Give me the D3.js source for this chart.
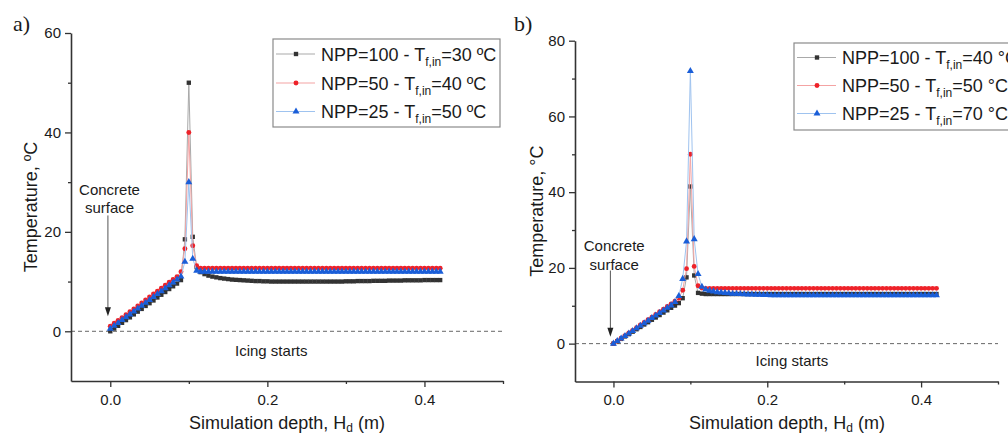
<!DOCTYPE html>
<html>
<head>
<meta charset="utf-8">
<script src="https://cdn.jsdelivr.net/npm/d3@7"></script>
<style>
	body { margin: 0; background: #fff; }
	text { font-family: "Liberation Sans", Arial, sans-serif; fill: #1a1a1a; }
</style>
</head>
<body>
<svg id="chart" width="1008" height="437"></svg>
<script>
// simulation depth nodes (m)
const depth = [
	0, 0.005, 0.01, 0.015, 0.02, 0.025, 0.03, 0.035, 0.04, 0.045,
	0.05, 0.055, 0.06, 0.065, 0.07, 0.075, 0.08, 0.085, 0.09, 0.095,
	0.1, 0.105, 0.11, 0.115, 0.12, 0.125, 0.13, 0.135, 0.14, 0.145,
	0.15, 0.155, 0.16, 0.165, 0.17, 0.175, 0.18, 0.185, 0.19, 0.195,
	0.2, 0.205, 0.21, 0.215, 0.22, 0.225, 0.23, 0.235, 0.24, 0.245,
	0.25, 0.255, 0.26, 0.265, 0.27, 0.275, 0.28, 0.285, 0.29, 0.295,
	0.3, 0.305, 0.31, 0.315, 0.32, 0.325, 0.33, 0.335, 0.34, 0.345,
	0.35, 0.355, 0.36, 0.365, 0.37, 0.375, 0.38, 0.385, 0.39, 0.395,
	0.4, 0.405, 0.41, 0.415, 0.42
];

// panel a) temperatures
const aBlack = [
	0, 0.55, 1.1, 1.7, 2.25, 2.8, 3.4, 3.95, 4.5, 5.1,
	5.65, 6.2, 6.8, 7.35, 7.9, 8.5, 9.05, 9.6, 10.3, 18.5,
	50, 19, 12.9, 11.9, 11.5, 11.2, 11.0, 10.85, 10.7, 10.6,
	10.5, 10.4, 10.35, 10.3, 10.25, 10.2, 10.15, 10.1, 10.1, 10.05,
	10.05, 10.0, 10.0, 10.0, 10.0, 10.0, 10.0, 10.0, 10.0, 10.0,
	10.0, 10.0, 10.0, 10.0, 10.0, 10.0, 10.0, 10.0, 10.0, 10.0,
	10.05, 10.05, 10.05, 10.1, 10.1, 10.1, 10.1, 10.15, 10.15, 10.15,
	10.15, 10.2, 10.2, 10.2, 10.2, 10.25, 10.25, 10.25, 10.25, 10.25,
	10.3, 10.3, 10.3, 10.3, 10.3
];
const aRed = [
	1.0, 1.6, 2.2, 2.75, 3.35, 3.95, 4.5, 5.1, 5.7, 6.3,
	6.9, 7.5, 8.05, 8.65, 9.25, 9.85, 10.4, 11.0, 12.0, 16.6,
	40, 17.2, 13.2, 12.7, 12.7, 12.7, 12.7, 12.7, 12.7, 12.7,
	12.7, 12.7, 12.7, 12.7, 12.7, 12.7, 12.7, 12.7, 12.7, 12.7,
	12.7, 12.7, 12.7, 12.7, 12.7, 12.7, 12.7, 12.7, 12.7, 12.7,
	12.7, 12.7, 12.7, 12.7, 12.7, 12.7, 12.7, 12.7, 12.7, 12.7,
	12.7, 12.7, 12.7, 12.7, 12.7, 12.7, 12.7, 12.7, 12.7, 12.7,
	12.7, 12.7, 12.7, 12.7, 12.7, 12.7, 12.7, 12.7, 12.7, 12.7,
	12.7, 12.7, 12.7, 12.7, 12.7
];
const aBlue = [
	0.5, 1.1, 1.65, 2.25, 2.85, 3.4, 4.0, 4.6, 5.15, 5.75,
	6.3, 6.9, 7.5, 8.05, 8.65, 9.25, 9.8, 10.4, 11.0, 14.0,
	30, 14.6, 12.2, 12.0, 12.0, 12.0, 12.0, 12.0, 12.0, 12.0,
	12.0, 12.0, 12.0, 12.0, 12.0, 12.0, 12.0, 12.0, 12.0, 12.0,
	12.0, 12.0, 12.0, 12.0, 12.0, 12.0, 12.0, 12.0, 12.0, 12.0,
	12.0, 12.0, 12.0, 12.0, 12.0, 12.0, 12.0, 12.0, 12.0, 12.0,
	12.0, 12.0, 12.0, 12.0, 12.0, 12.0, 12.0, 12.0, 12.0, 12.0,
	12.0, 12.0, 12.0, 12.0, 12.0, 12.0, 12.0, 12.0, 12.0, 12.0,
	12.0, 12.0, 12.0, 12.0, 12.0
];

// panel b) temperatures
const bBlack = [
	0, 0.63, 1.25, 1.9, 2.5, 3.15, 3.8, 4.4, 5.05, 5.65,
	6.3, 6.9, 7.55, 8.2, 8.8, 9.45, 10.05, 10.7, 12.0, 17.5,
	41.5, 18.0, 13.4, 13.2, 13.1, 13.1, 13.1, 13.1, 13.1, 13.1,
	13.1, 13.1, 13.1, 13.1, 13.1, 13.1, 13.1, 13.1, 13.1, 13.1,
	13.1, 13.1, 13.1, 13.1, 13.1, 13.1, 13.1, 13.1, 13.1, 13.1,
	13.1, 13.1, 13.1, 13.1, 13.1, 13.1, 13.1, 13.1, 13.1, 13.1,
	13.1, 13.1, 13.1, 13.1, 13.1, 13.1, 13.1, 13.1, 13.1, 13.1,
	13.1, 13.1, 13.1, 13.1, 13.1, 13.1, 13.1, 13.1, 13.1, 13.1,
	13.1, 13.1, 13.1, 13.1, 13.1
];
const bRed = [
	0, 0.7, 1.4, 2.1, 2.8, 3.5, 4.2, 4.9, 5.6, 6.3,
	7.0, 7.7, 8.4, 9.1, 9.8, 10.5, 11.2, 12.0, 14.1, 19.8,
	50, 20.4, 15.3, 14.7, 14.6, 14.6, 14.6, 14.6, 14.6, 14.6,
	14.6, 14.6, 14.6, 14.6, 14.6, 14.6, 14.6, 14.6, 14.6, 14.6,
	14.6, 14.6, 14.6, 14.6, 14.6, 14.6, 14.6, 14.6, 14.6, 14.6,
	14.6, 14.6, 14.6, 14.6, 14.6, 14.6, 14.6, 14.6, 14.6, 14.6,
	14.6, 14.6, 14.6, 14.6, 14.6, 14.6, 14.6, 14.6, 14.6, 14.6,
	14.6, 14.6, 14.6, 14.6, 14.6, 14.6, 14.6, 14.6, 14.6, 14.6,
	14.6, 14.6, 14.6, 14.6, 14.6
];
const bBlue = [
	0, 0.67, 1.35, 2.0, 2.7, 3.35, 4.05, 4.7, 5.4, 6.05,
	6.75, 7.4, 8.1, 8.75, 9.45, 10.1, 11.0, 12.6, 17.1, 27.0,
	72, 27.6, 18.4, 15.0, 14.3, 14.0, 13.8, 13.6, 13.5, 13.4,
	13.3, 13.2, 13.15, 13.1, 13.05, 13.0, 12.95, 12.9, 12.9, 12.85,
	12.85, 12.8, 12.8, 12.8, 12.8, 12.8, 12.8, 12.8, 12.8, 12.8,
	12.8, 12.8, 12.8, 12.8, 12.8, 12.8, 12.8, 12.8, 12.8, 12.8,
	12.8, 12.8, 12.8, 12.8, 12.8, 12.8, 12.8, 12.8, 12.8, 12.8,
	12.8, 12.8, 12.8, 12.8, 12.8, 12.8, 12.8, 12.8, 12.8, 12.8,
	12.8, 12.8, 12.8, 12.8, 12.8
];

// legend values and ticks
const nppValues = ["100", "50", "25"];
const aInlet = ["30", "40", "50"];
const bInlet = ["40", "50", "70"];
const xTicks = [0, 0.2, 0.4];
const xMinor = [0.1, 0.3, 0.5];
const aYTicks = [0, 20, 40, 60];
const aYMinor = [10, 30, 50];
const bYTicks = [0, 20, 40, 60, 80];
const bYMinor = [10, 30, 50, 70];

const styles = [
	{line: "#a9a9a9", fill: "#333333", symbol: d3.symbolSquare, size: 19},
	{line: "#f4a3a3", fill: "#ee2229", symbol: d3.symbolCircle, size: 19},
	{line: "#9fc3ef", fill: "#1a5ed8", symbol: d3.symbolTriangle, size: 21}
];

const svg = d3.select("#chart");

function panel(cfg) {
	const x = d3.scaleLinear().domain([-0.05, 0.5]).range([cfg.left, cfg.right]);
	const y = d3.scaleLinear().domain(cfg.yDomain).range([cfg.bottom, cfg.top]);
	const g = svg.append("g");

	// zero line
	g.append("line")
		.attr("x1", cfg.left).attr("x2", cfg.right)
		.attr("y1", y(0)).attr("y2", y(0))
		.attr("stroke", "#666")
		.attr("stroke-dasharray", "4,3");

	// series
	cfg.series.forEach((vals, i) => {
		const pts = vals.map((v, j) => [depth[j], v]);
		const s = styles[i];
		const sg = g.append("g");
		sg.append("path")
			.datum(pts)
			.attr("fill", "none")
			.attr("stroke", s.line)
			.attr("stroke-width", 1)
			.attr("d", d3.line().x(d => x(d[0])).y(d => y(d[1])));
		sg.selectAll("path.pt")
			.data(pts)
			.enter()
			.append("path")
			.attr("class", "pt")
			.attr("transform", d => `translate(${x(d[0])},${y(d[1])})`)
			.attr("fill", s.fill)
			.attr("d", d3.symbol().type(s.symbol).size(s.size));
	});

	// axes
	g.append("g")
		.attr("transform", `translate(${cfg.left},0)`)
		.call(d3.axisLeft(y).tickValues(cfg.yTicks).tickSize(6).tickPadding(4).tickSizeOuter(0));
	g.append("g")
		.attr("transform", `translate(${cfg.left},0)`)
		.call(d3.axisLeft(y).tickValues(cfg.yMinor).tickSize(3).tickFormat("").tickSizeOuter(0))
		.select(".domain").remove();
	g.append("g")
		.attr("transform", `translate(0,${cfg.bottom})`)
		.call(d3.axisBottom(x).tickValues(xTicks).tickFormat(d3.format(".1f")).tickSize(6).tickPadding(7).tickSizeOuter(0));
	g.append("g")
		.attr("transform", `translate(0,${cfg.bottom})`)
		.call(d3.axisBottom(x).tickValues(xMinor).tickSize(3).tickFormat("").tickSizeOuter(0))
		.select(".domain").remove();

	g.selectAll(".domain").attr("stroke", "#333").attr("stroke-width", 1.6);
	g.selectAll(".tick line").attr("stroke", "#333").attr("stroke-width", 1.3);
	g.selectAll(".tick text")
		.attr("font-family", "Liberation Sans, Arial, sans-serif")
		.attr("font-size", 15)
		.attr("fill", "#333");

	// axis titles
	const xt = g.append("text")
		.attr("x", cfg.xTitleX).attr("y", 429)
		.attr("text-anchor", "middle")
		.attr("font-size", 18);
	xt.append("tspan").text("Simulation depth, H");
	xt.append("tspan").attr("font-size", 12).attr("dy", 3).text("d");
	xt.append("tspan").attr("dy", -3).text(" (m)");

	g.append("text")
		.attr("transform", `translate(${cfg.yTitleX},${(cfg.top + cfg.bottom) / 2}) rotate(-90)`)
		.attr("text-anchor", "middle")
		.attr("font-size", 18)
		.text("Temperature, " + cfg.deg + "C");

	// panel letter
	g.append("text")
		.attr("x", cfg.letterX).attr("y", 31)
		.attr("font-size", 22)
		.style("font-family", "'Liberation Serif', serif")
		.text(cfg.letter);

	// annotations
	const c = cfg.concrete;
	g.append("text")
		.attr("x", x(c.x)).attr("y", y(c.y))
		.attr("text-anchor", "middle")
		.attr("font-size", 15)
		.text("Concrete");
	g.append("text")
		.attr("x", x(c.x)).attr("y", y(c.y) + 18.5)
		.attr("text-anchor", "middle")
		.attr("font-size", 15)
		.text("surface");
	const ax = x(c.arrowX), ay1 = y(c.arrowTop), ay2 = y(c.arrowTip);
	g.append("line")
		.attr("x1", ax).attr("x2", ax)
		.attr("y1", ay1).attr("y2", ay2 - 8)
		.attr("stroke", "#555").attr("stroke-width", 1);
	g.append("path")
		.attr("d", `M${ax - 3},${ay2 - 9}L${ax + 3},${ay2 - 9}L${ax},${ay2}Z`)
		.attr("fill", "#222");

	g.append("text")
		.attr("x", x(cfg.icing[0])).attr("y", y(cfg.icing[1]))
		.attr("text-anchor", "middle")
		.attr("font-size", 15)
		.text("Icing starts");

	// legend
	const lg = g.append("g");
	lg.append("rect")
		.attr("x", cfg.legend.x).attr("y", cfg.legend.y)
		.attr("width", cfg.legend.w).attr("height", cfg.legend.h)
		.attr("fill", "#fff")
		.attr("stroke", "#8a8a8a").attr("stroke-width", 1.2);
	nppValues.forEach((npp, i) => {
		const ry = cfg.legend.rows[i], s = styles[i];
		lg.append("line")
			.attr("x1", cfg.legend.x + 3).attr("x2", cfg.legend.x + 42)
			.attr("y1", ry).attr("y2", ry)
			.attr("stroke", s.line).attr("stroke-width", 1.2);
		lg.append("path")
			.attr("transform", `translate(${cfg.legend.x + 23},${ry})`)
			.attr("fill", s.fill)
			.attr("d", d3.symbol().type(s.symbol).size(s.size));
		const t = lg.append("text")
			.attr("x", cfg.legend.x + 48).attr("y", ry + 6.5)
			.attr("font-size", 18);
		t.append("tspan").text("NPP=" + npp + " - T");
		t.append("tspan").attr("font-size", 12).attr("dy", 5).text("f,in");
		t.append("tspan").attr("dy", -5).text("=" + cfg.inlet[i] + " " + cfg.deg + "C");
	});
}

panel({
	left: 71, right: 503, top: 33, bottom: 381,
	yDomain: [-10, 60], yTicks: aYTicks, yMinor: aYMinor,
	series: [aBlack, aRed, aBlue],
	inlet: aInlet, deg: "º", letter: "a)", letterX: 13,
	xTitleX: 287, yTitleX: 37,
	concrete: {x: -0.001, y: 27.5, arrowX: -0.003, arrowTop: 23.3, arrowTip: 3.0},
	icing: [0.205, -5],
	legend: {x: 273, y: 39, w: 227, h: 88, rows: [54, 83, 111.5]}
});

panel({
	left: 575, right: 998, top: 40.7, bottom: 381.5,
	yDomain: [-10, 80], yTicks: bYTicks, yMinor: bYMinor,
	series: [bBlack, bRed, bBlue],
	inlet: bInlet, deg: "°", letter: "b)", letterX: 514,
	xTitleX: 787, yTitleX: 543,
	concrete: {x: 0.001, y: 24.4, arrowX: -0.004, arrowTop: 19.3, arrowTip: 1.8},
	icing: [0.232, -5.8],
	legend: {x: 794, y: 43, w: 240, h: 87, rows: [57.5, 85.5, 113.5]}
});
</script>
</body>
</html>
